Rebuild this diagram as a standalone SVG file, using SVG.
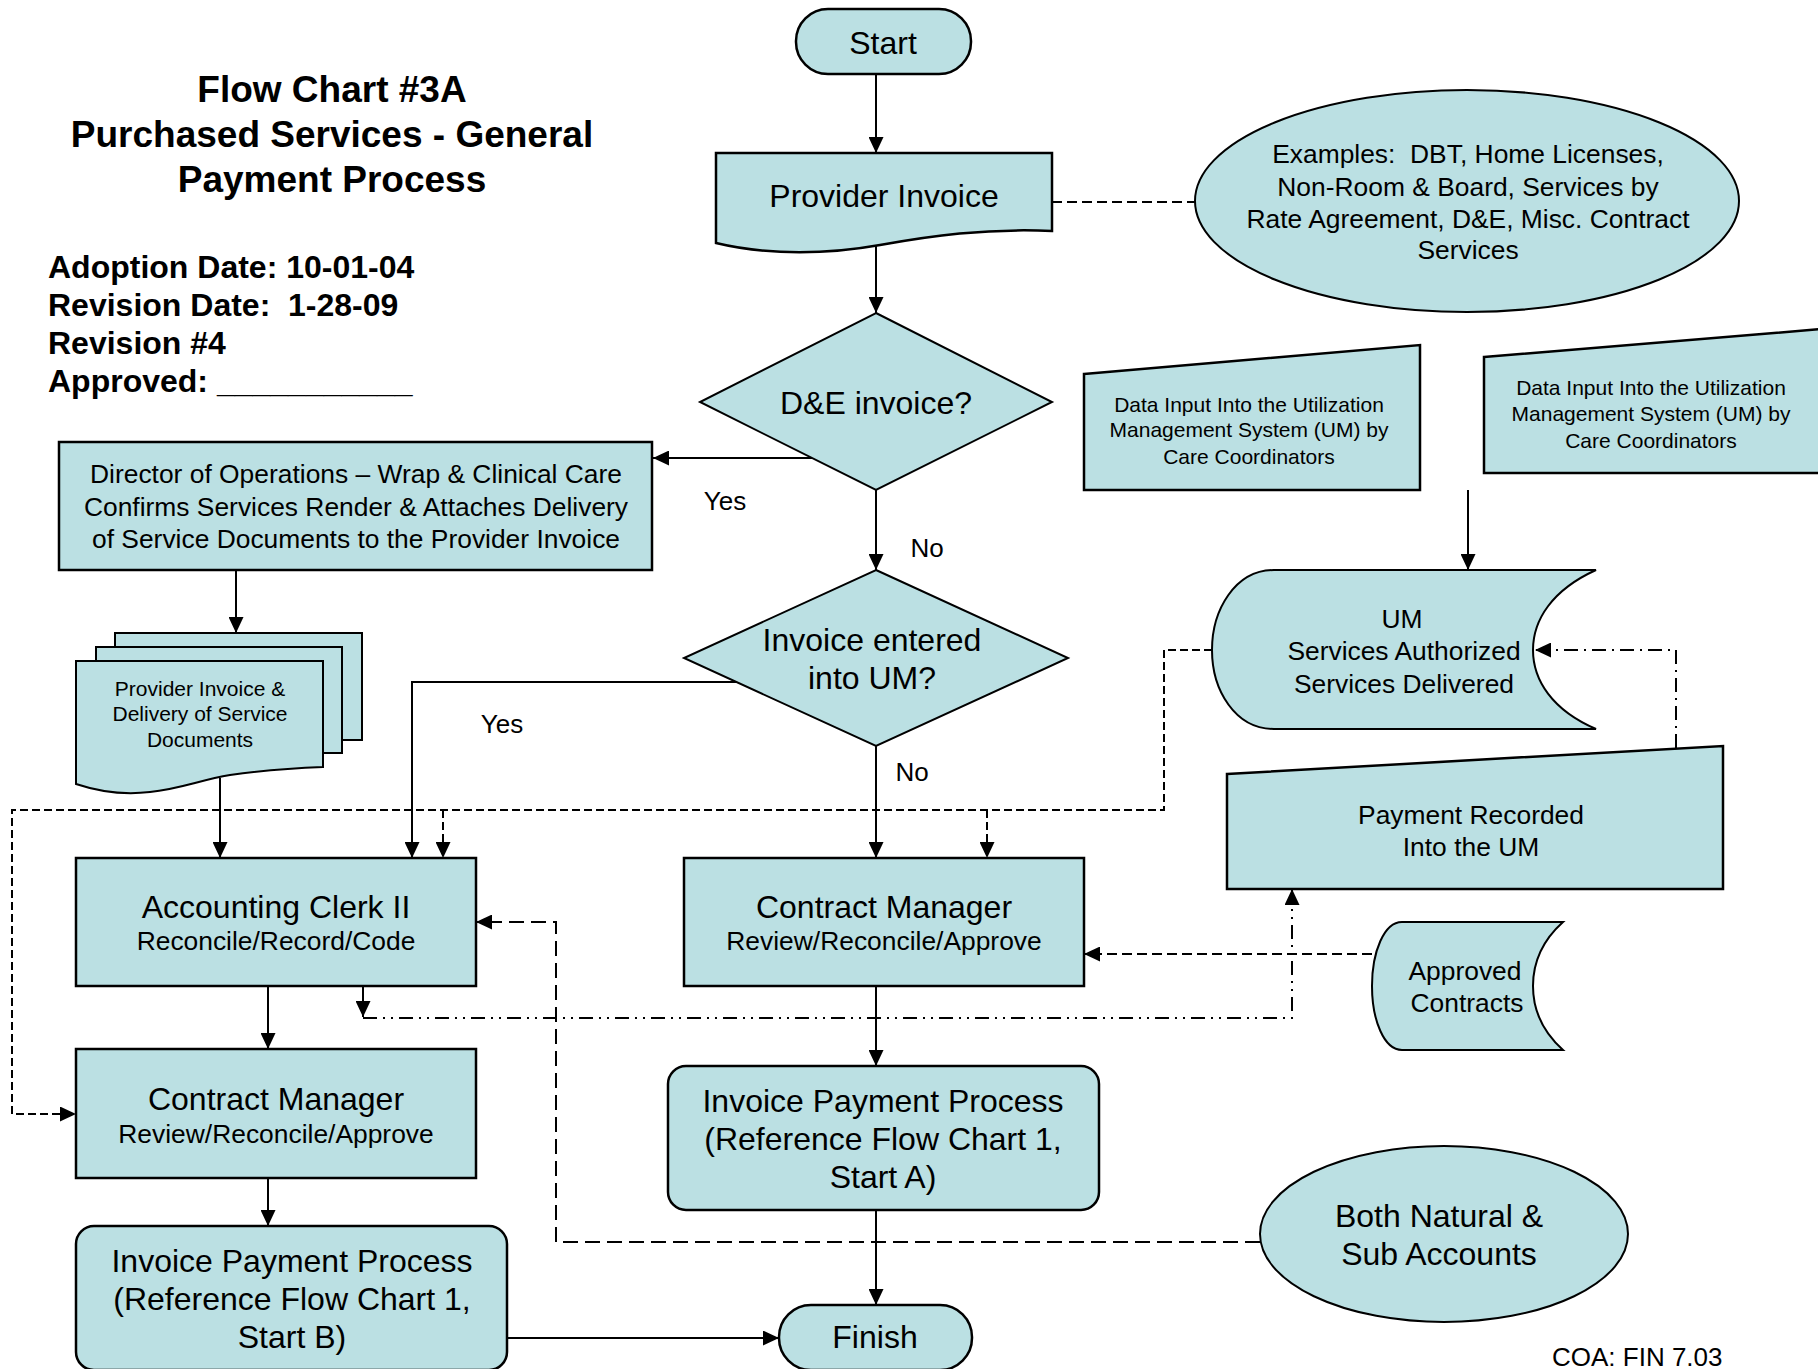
<svg xmlns="http://www.w3.org/2000/svg" width="1818" height="1369" viewBox="0 0 1818 1369">
<defs>
<marker id="ah" markerUnits="userSpaceOnUse" markerWidth="16" markerHeight="15" refX="16" refY="7.5" orient="auto"><path d="M0,0 L16,7.5 L0,15 Z" fill="#000"/></marker>
</defs>
<style>
.n{fill:#BBE0E3;stroke:#000;stroke-width:2.5}
.c{fill:#BBE0E3;stroke:#000;stroke-width:2}
text{font-family:"Liberation Sans",Arial,sans-serif;fill:#000}
.t32{font-size:32px;text-anchor:middle}
.t26{font-size:26.4px;text-anchor:middle}
.t21{font-size:21px;text-anchor:middle}
.lb{font-size:26px;text-anchor:middle}
.ttl{font-size:37px;font-weight:bold;text-anchor:middle}
.inf{font-size:32px;font-weight:bold}
.ln{fill:none;stroke:#000;stroke-width:2}
.ar{marker-end:url(#ah)}
.d1{stroke-dasharray:8 4}
.d2{stroke-dasharray:10 5}
.d3{stroke-dasharray:15 7}
.dd{stroke-dasharray:14 6 2 6 2 6}
.dt{stroke-dasharray:14 6 2 6}
</style>
<rect x="0" y="0" width="1818" height="1369" fill="#fff"/>

<g id="title">
<text class="ttl" x="332" y="102">Flow Chart #3A</text>
<text class="ttl" x="332" y="147">Purchased Services - General</text>
<text class="ttl" x="332" y="192">Payment Process</text>
<text class="inf" x="48" y="278">Adoption Date: 10-01-04</text>
<text class="inf" x="48" y="316" xml:space="preserve">Revision Date:  1-28-09</text>
<text class="inf" x="48" y="354">Revision #4</text>
<text class="inf" x="48" y="392">Approved: ___________</text>
</g>

<g id="connectors">
<path class="ln ar" d="M876,74 V153"/>
<path class="ln ar" d="M876,246 V313"/>
<path class="ln d2" d="M1052,202 H1195"/>
<path class="ln ar" d="M812,458 H653"/>
<path class="ln ar" d="M876,490 V570"/>
<path class="ln ar" d="M236,570 V633"/>
<path class="ln ar" d="M220,778 V858"/>
<path class="ln ar" d="M736,682 H412 V858"/>
<path class="ln ar" d="M876,746 V858"/>
<path class="ln ar d1" d="M1212,650 H1164 V810 H12 V1114 H76"/>
<path class="ln ar d1" d="M443,810 V858"/>
<path class="ln ar d1" d="M987,810 V858"/>
<path class="ln ar" d="M268,986 V1049"/>
<path class="ln ar" d="M363,986 V1017"/>
<path class="ln ar dd" d="M363,1018 H1292 V889"/>
<path class="ln ar dt" d="M1676,748 V650 H1535"/>
<path class="ln ar d2" d="M1372,954 H1084"/>
<path class="ln ar d3" d="M1260,1242 H556 V922 H476"/>
<path class="ln ar" d="M876,986 V1066"/>
<path class="ln ar" d="M876,1210 V1305"/>
<path class="ln ar" d="M268,1178 V1226"/>
<path class="ln ar" d="M507,1338 H779"/>
<path class="ln ar" d="M1468,490 V570"/>
<text class="lb" x="725" y="510">Yes</text>
<text class="lb" x="927" y="557">No</text>
<text class="lb" x="502" y="733">Yes</text>
<text class="lb" x="912" y="781">No</text>
</g>

<g id="start">
<rect class="n" x="796" y="9" width="175" height="65" rx="32" ry="32"/>
<text class="t32" x="883" y="54">Start</text>
</g>

<g id="provider-invoice">
<path class="n" d="M716,153 H1052 V231 C985,228 930,236 880,245 C830,254 770,256 716,243 Z"/>
<text class="t32" x="884" y="207">Provider Invoice</text>
</g>

<g id="examples">
<ellipse class="c" cx="1467" cy="201" rx="272" ry="111"/>
<text class="t26" x="1468" y="163" xml:space="preserve">Examples:  DBT, Home Licenses,</text>
<text class="t26" x="1468" y="196">Non-Room &amp; Board, Services by</text>
<text class="t26" x="1468" y="228">Rate Agreement, D&amp;E, Misc. Contract</text>
<text class="t26" x="1468" y="259">Services</text>
</g>

<g id="de-invoice">
<polygon class="c" points="876,313 1052,402 876,490 700,402"/>
<text class="t32" x="876" y="414">D&amp;E invoice?</text>
</g>

<g id="director">
<rect class="n" x="59" y="442" width="593" height="128"/>
<text class="t26" x="356" y="483">Director of Operations – Wrap &amp; Clinical Care</text>
<text class="t26" x="356" y="516">Confirms Services Render &amp; Attaches Delivery</text>
<text class="t26" x="356" y="548">of Service Documents to the Provider Invoice</text>
</g>

<g id="documents">
<rect class="c" x="115" y="633" width="247" height="107"/>
<rect class="c" x="96" y="647" width="246" height="106"/>
<path class="c" d="M76,661 H323 V767 C295,768 265,770 230,775 C200,780 180,789 150,792 C125,795 100,792 76,784 Z"/>
<text class="t21" x="200" y="696">Provider Invoice &amp;</text>
<text class="t21" x="200" y="721">Delivery of Service</text>
<text class="t21" x="200" y="747">Documents</text>
</g>

<g id="invoice-entered">
<polygon class="c" points="876,570 1068,658 876,746 684,658"/>
<text class="t32" x="872" y="651">Invoice entered</text>
<text class="t32" x="872" y="689">into UM?</text>
</g>

<g id="data-input-1">
<polygon class="n" points="1084,374 1420,345 1420,490 1084,490"/>
<text class="t21" x="1249" y="412">Data Input Into the Utilization</text>
<text class="t21" x="1249" y="437">Management System (UM) by</text>
<text class="t21" x="1249" y="464">Care Coordinators</text>
</g>

<g id="data-input-2">
<polygon class="n" points="1484,357 1822,329 1822,473 1484,473"/>
<text class="t21" x="1651" y="395">Data Input Into the Utilization</text>
<text class="t21" x="1651" y="421">Management System (UM) by</text>
<text class="t21" x="1651" y="448">Care Coordinators</text>
</g>

<g id="um">
<path class="c" d="M1274,570 H1596 C1552,590 1533,620 1533,650 C1533,680 1552,710 1596,729 H1274 C1235,729 1212,690 1212,650 C1212,610 1235,570 1274,570 Z"/>
<text class="t26" x="1402" y="628">UM</text>
<text class="t26" x="1404" y="660">Services Authorized</text>
<text class="t26" x="1404" y="693">Services Delivered</text>
</g>

<g id="payment-recorded">
<polygon class="n" points="1227,774 1723,746 1723,889 1227,889"/>
<text class="t26" x="1471" y="824">Payment Recorded</text>
<text class="t26" x="1471" y="856">Into the UM</text>
</g>

<g id="accounting-clerk">
<rect class="n" x="76" y="858" width="400" height="128"/>
<text class="t32" x="276" y="918">Accounting Clerk II</text>
<text class="t26" x="276" y="950">Reconcile/Record/Code</text>
</g>

<g id="contract-manager-a">
<rect class="n" x="684" y="858" width="400" height="128"/>
<text class="t32" x="884" y="918">Contract Manager</text>
<text class="t26" x="884" y="950">Review/Reconcile/Approve</text>
</g>

<g id="approved-contracts">
<path class="c" d="M1402,922 H1563 C1543,940 1533,962 1533,986 C1533,1010 1543,1032 1563,1050 H1402 C1384,1050 1372,1020 1372,986 C1372,952 1384,922 1402,922 Z"/>
<text class="t26" x="1465" y="980">Approved</text>
<text class="t26" x="1467" y="1012">Contracts</text>
</g>

<g id="contract-manager-b">
<rect class="n" x="76" y="1049" width="400" height="129"/>
<text class="t32" x="276" y="1110">Contract Manager</text>
<text class="t26" x="276" y="1143">Review/Reconcile/Approve</text>
</g>

<g id="invoice-payment-a">
<rect class="n" x="668" y="1066" width="431" height="144" rx="18" ry="18"/>
<text class="t32" x="883" y="1112">Invoice Payment Process</text>
<text class="t32" x="883" y="1150">(Reference Flow Chart 1,</text>
<text class="t32" x="883" y="1188">Start A)</text>
</g>

<g id="both-accounts">
<ellipse class="c" cx="1444" cy="1234" rx="184" ry="88"/>
<text class="t32" x="1439" y="1227">Both Natural &amp;</text>
<text class="t32" x="1439" y="1265">Sub Accounts</text>
</g>

<g id="invoice-payment-b">
<rect class="n" x="76" y="1226" width="431" height="144" rx="18" ry="18"/>
<text class="t32" x="292" y="1272">Invoice Payment Process</text>
<text class="t32" x="292" y="1310">(Reference Flow Chart 1,</text>
<text class="t32" x="292" y="1348">Start B)</text>
</g>

<g id="finish">
<rect class="n" x="779" y="1305" width="193" height="65" rx="32" ry="32"/>
<text class="t32" x="875" y="1348">Finish</text>
</g>

<g id="footer">
<text x="1552" y="1366" font-size="26">COA: FIN 7.03</text>
</g>
</svg>
